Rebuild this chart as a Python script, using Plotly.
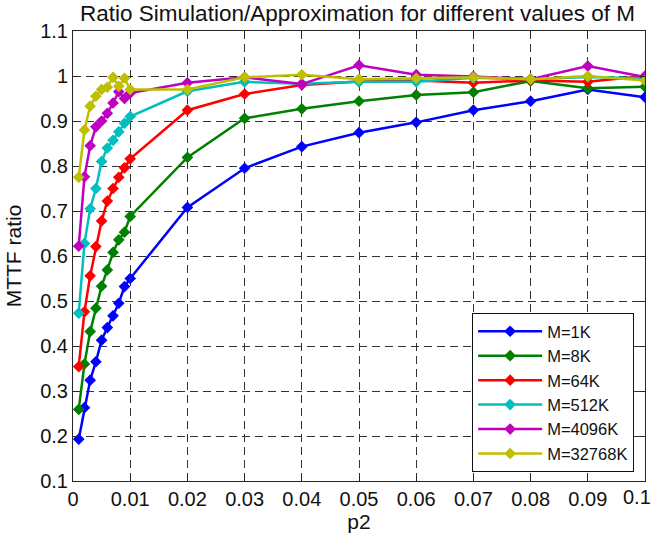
import plotly.graph_objects as go

p2 = [0.001, 0.002, 0.003, 0.004, 0.005, 0.006, 0.007, 0.008, 0.009, 0.010,
      0.02, 0.03, 0.04, 0.05, 0.06, 0.07, 0.08, 0.09, 0.10]

m_1k = [0.193, 0.263, 0.324, 0.365, 0.413, 0.441, 0.467, 0.495, 0.532, 0.550,
        0.708, 0.795, 0.843, 0.874, 0.897, 0.924, 0.944, 0.970, 0.953]
m_8k = [0.259, 0.360, 0.432, 0.484, 0.533, 0.569, 0.608, 0.636, 0.653, 0.688,
        0.819, 0.906, 0.927, 0.944, 0.958, 0.964, 0.989, 0.973, 0.976]
m_64k = [0.354, 0.476, 0.556, 0.621, 0.678, 0.722, 0.750, 0.775, 0.796, 0.816,
         0.924, 0.960, 0.980, 0.988, 0.990, 0.985, 0.990, 0.987, 1.000]
m_512k = [0.473, 0.628, 0.705, 0.750, 0.810, 0.840, 0.857, 0.876, 0.895, 0.910,
          0.966, 0.987, 0.983, 0.987, 0.987, 0.996, 0.993, 0.998, 0.995]
m_4096k = [0.622, 0.776, 0.845, 0.887, 0.900, 0.917, 0.940, 0.965, 0.950, 0.962,
           0.985, 0.997, 0.982, 1.024, 1.003, 0.999, 0.993, 1.022, 0.998]
m_32768k = [0.775, 0.880, 0.933, 0.955, 0.970, 0.975, 0.997, 0.977, 0.995, 0.970,
            0.970, 0.997, 1.003, 0.993, 0.995, 0.997, 0.993, 1.000, 0.990]

series = [
    ("M=1K", m_1k, "#0000FF"),
    ("M=8K", m_8k, "#008000"),
    ("M=64K", m_64k, "#FF0000"),
    ("M=512K", m_512k, "#00BFBF"),
    ("M=4096K", m_4096k, "#BF00BF"),
    ("M=32768K", m_32768k, "#BFBF00"),
]

x_ticks = [0, 0.01, 0.02, 0.03, 0.04, 0.05, 0.06, 0.07, 0.08, 0.09, 0.1]
x_labels = ["0", "0.01", "0.02", "0.03", "0.04", "0.05", "0.06", "0.07", "0.08", "0.09", "0.1"]
y_ticks = [0.1, 0.2, 0.3, 0.4, 0.5, 0.6, 0.7, 0.8, 0.9, 1.0, 1.1]
y_labels = ["0.1", "0.2", "0.3", "0.4", "0.5", "0.6", "0.7", "0.8", "0.9", "1", "1.1"]

fig = go.Figure()
for name, vals, col in series:
    fig.add_trace(go.Scatter(
        x=p2, y=vals, name=name, mode="lines+markers",
        line=dict(color=col, width=2.5),
        marker=dict(symbol="diamond", size=9, color=col),
    ))

font = "Liberation Sans, Arial, sans-serif"
tick_font = dict(family=font, size=20, color="#111")
axis_common = dict(
    showline=True, linecolor="#262626", linewidth=1, mirror="ticks",
    ticks="inside", ticklen=5, tickcolor="#262626",
    showgrid=True, gridcolor="#333333", griddash="8px,5px", gridwidth=1,
    zeroline=False, tickfont=tick_font,
)

# last x tick label would be clipped by the page edge; draw it as an annotation
x_text_shown = x_labels[:-1] + [""]

fig.update_layout(
    width=656, height=538,
    margin=dict(l=73, r=11, t=31, b=57),
    paper_bgcolor="white", plot_bgcolor="white",
    title=dict(text="Ratio Simulation/Approximation for different values of M",
               x=0.545, xanchor="center", y=0.976, yanchor="middle",
               font=dict(family=font, size=22.5, color="#111")),
    xaxis=dict(range=[0, 0.1], tickvals=x_ticks, ticktext=x_text_shown,
               title=dict(text="p2", font=dict(family=font, size=21, color="#111"), standoff=2),
               **axis_common),
    yaxis=dict(range=[0.1, 1.1], tickvals=y_ticks, ticktext=y_labels,
               title=dict(text="MTTF ratio", font=dict(family=font, size=21, color="#111"), standoff=12),
               **axis_common),
    legend=dict(x=0.981, xanchor="right", y=0.02, yanchor="bottom",
                bgcolor="white", bordercolor="#111", borderwidth=1,
                font=dict(family=font, size=16.5, color="#111"),
                itemwidth=64, tracegroupgap=0),
    showlegend=True,
    annotations=[dict(x=x_ticks[-1], xref="x", y=0, yref="paper",
                      text=x_labels[-1], showarrow=False, xanchor="center",
                      yanchor="top", xshift=-8, yshift=-3, font=tick_font)],
)

fig.write_html("out.html")
